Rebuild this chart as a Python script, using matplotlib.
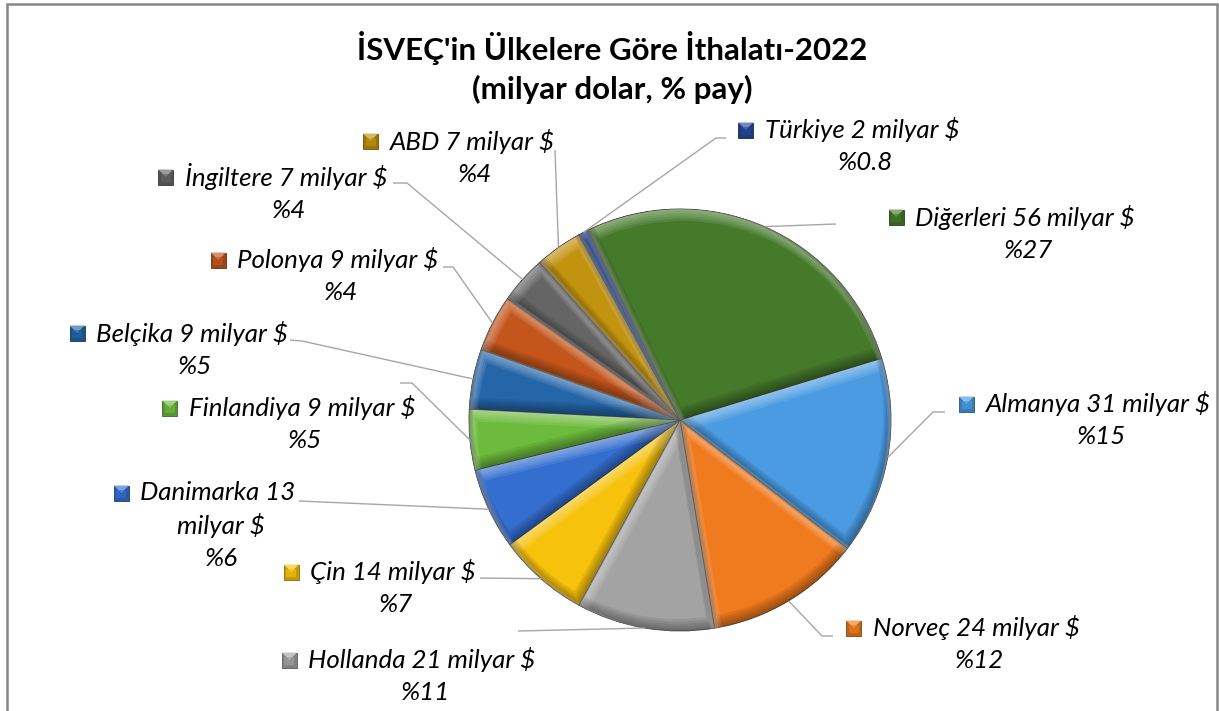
import matplotlib.pyplot as plt
import matplotlib.transforms as mtransforms
import matplotlib.colors as mcolors
from matplotlib.patches import PathPatch, Polygon, Rectangle
import numpy as np

plt.rcParams['font.family'] = ['Lato', 'DejaVu Sans']

# data (billion $, share %)
countries = ['Almanya', 'Norveç', 'Hollanda', 'Çin', 'Danimarka', 'Finlandiya',
             'Belçika', 'Polonya', 'İngiltere', 'ABD', 'Türkiye', 'Diğerleri']
imports_bn = [30.6, 24.2, 21.4, 14.1, 12.6, 9.4, 9.3, 8.8, 7.4, 7.3, 1.6, 55.5]
shown_bn = ['31', '24', '21', '14', '13', '9', '9', '9', '7', '7', '2', '56']
share_pct = ['15', '12', '11', '7', '6', '5', '5', '4', '4', '4', '0.8', '27']
colors = ['#4A9BE2', '#F07A1E', '#A3A3A3', '#F7C20C', '#346FD0', '#6DBB3C',
          '#2566A8', '#C4561C', '#656565', '#C2930F', '#244A98', '#467A2B']

# label layout (pixel positions, image coords: y down)
label_xy = [(1098, 404), (976, 628), (422, 660), (393, 572), (218, 493), (302, 408),
            (192, 333), (338, 260), (286, 177), (472, 141), (862, 130), (1025, 217)]
leader_pts = [[(945, 412), (933, 412)], [(833, 636), (822, 636)], [(518, 631)],
              [(480, 578)], [(299, 501)], [(400, 383), (412, 383)],
              [(290, 340), (302, 341)], [(443, 267), (453, 267)],
              [(393, 183), (407, 183)], [(555, 150)], [(726, 138), (716, 138)],
              [(836, 224)]]

W, H = 1219, 711
fig = plt.figure(figsize=(W / 100, H / 100), dpi=100)
ax = fig.add_axes([0, 0, 1, 1])

cx, cy, r = 680, H - 420, 211
wedges, _ = ax.pie(imports_bn, colors=colors, startangle=17, counterclock=False,
                   radius=r, center=(cx, cy),
                   wedgeprops=dict(linewidth=0.6, edgecolor='#3c3c3c'))
ax.set_xlim(0, W)
ax.set_ylim(0, H)
ax.set_aspect('equal')
ax.set_axis_off()


def shade(c, f):
    rgb = np.array(mcolors.to_rgb(c))
    if f > 0:
        return tuple(rgb + (1 - rgb) * f)
    return tuple(rgb * (1 + f))


# soft bevel: light gradient on upper edges, dark gradient on lower edges
for w in wedges:
    for k in range(1, 6):
        step = 1.2 * k
        for dx, dy, col, a in [(0.4 * step, -step, 'white', 0.09),
                               (-0.3 * step, step, 'black', 0.075)]:
            tr = mtransforms.offset_copy(ax.transData, fig=fig, x=dx, y=dy,
                                         units='dots')
            p = PathPatch(w.get_path(), transform=tr, fill=False, edgecolor=col,
                          lw=2 * step * 0.72, alpha=a)
            p.set_clip_path(w)
            ax.add_patch(p)

renderer = fig.canvas.get_renderer()

for i, w in enumerate(wedges):
    lx, ly = label_xy[i]
    if countries[i] == 'Danimarka':
        lines = [f'{countries[i]} {shown_bn[i]}', 'milyar $', f'%{share_pct[i]}']
    else:
        lines = [f'{countries[i]} {shown_bn[i]} milyar $', f'%{share_pct[i]}']
    texts = []
    for k, s in enumerate(lines):
        t = ax.text(lx + (3 if k else 0), H - (ly + 33 * k), s, ha='center',
                    va='center', fontsize=18.6, style='italic', color='black')
        texts.append(t)

    # legend key square in front of first line
    bb = texts[0].get_window_extent(renderer)
    mx, my, h = bb.x0 - 19, H - ly, 7.5
    col = colors[i]
    ax.add_patch(Rectangle((mx - h, my - h), 2 * h, 2 * h, facecolor=shade(col, -0.2),
                           edgecolor=shade(col, -0.45), lw=0.6))
    ax.add_patch(Polygon([(mx - h, my + h), (mx + h, my + h), (mx, my)],
                         facecolor=shade(col, 0.35), edgecolor='none'))
    ax.add_patch(Polygon([(mx - h + 2.5, my - h + 2.5), (mx + h - 2.5, my - h + 2.5),
                          (mx + h - 2.5, my + h - 4), (mx - h + 2.5, my + h - 4)],
                         facecolor=col, edgecolor='none', alpha=0.6))

    # leader line to the rim at the wedge middle
    mid = np.deg2rad((w.theta1 + w.theta2) / 2)
    rim = (cx + r * np.cos(mid), cy + r * np.sin(mid))
    pts = [(x, H - y) for x, y in leader_pts[i]] + [rim]
    xs, ys = zip(*pts)
    ax.plot(xs, ys, color='#A6A6A6', lw=1.0, solid_capstyle='butt')

ax.text(612, H - 48, "İSVEÇ'in Ülkelere Göre İthalatı-2022", ha='center', va='center',
        fontsize=22.5, fontweight='bold', color='black')
ax.text(612, H - 89, '(milyar dolar, % pay)', ha='center', va='center',
        fontsize=22.5, fontweight='bold', color='black')

# chart border
ax.plot([7, 7, 1217, 1217], [-5, H - 4, H - 4, -5], color='#878787', lw=1.8,
        solid_joinstyle='miter', clip_on=False)

fig.savefig('out.png', dpi=100)
